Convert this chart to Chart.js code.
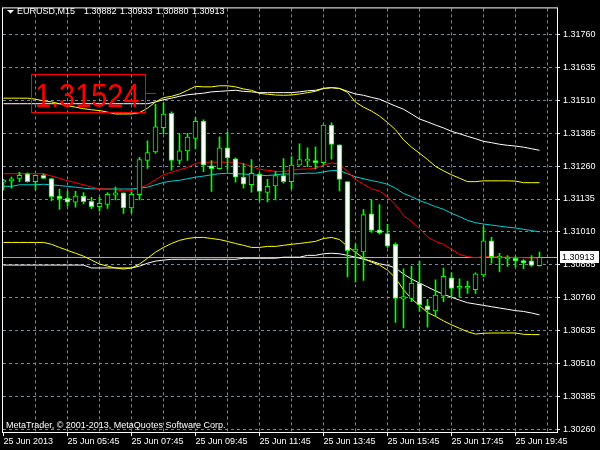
<!DOCTYPE html>
<html>
<head>
<meta charset="utf-8">
<script src="https://cdn.jsdelivr.net/npm/chart.js@4.4.1/dist/chart.umd.min.js"></script>
<style>
  html, body { margin: 0; padding: 0; background: #000; }
  canvas { display: block; }
</style>
</head>
<body>
<canvas id="eurusdChart" width="600" height="450"></canvas>
<script>
// EURUSD M15, 25 Jun 2013 - one entry per bar
const open = [1.31199,1.31204,1.31213,1.31231,1.31201,1.31225,1.31213,1.31146,1.31138,1.31123,
  1.31146,1.31126,1.31106,1.31114,1.31150,1.31158,1.31101,1.31151,1.31282,1.31314,
  1.31406,1.31460,1.31282,1.31318,1.31365,1.31431,1.31261,1.31250,1.31329,1.31288,
  1.31218,1.31189,1.31230,1.31160,1.31185,1.31224,1.31201,1.31264,1.31279,1.31281,
  1.31273,1.31416,1.31341,1.31201,1.30936,1.30934,1.31079,1.31018,1.31004,1.30963,
  1.30755,1.30757,1.30816,1.30729,1.30710,1.30766,1.30836,1.30796,1.30796,1.30791,
  1.30847,1.30976,1.30910,1.30907,1.30910,1.30901,1.30900,1.30882];
const high = [1.31210,1.31218,1.31236,1.31234,1.31227,1.31231,1.31214,1.31173,1.31164,1.31164,
  1.31159,1.31141,1.31141,1.31159,1.31180,1.31158,1.31161,1.31293,1.31356,1.31495,
  1.31501,1.31466,1.31383,1.31384,1.31445,1.31436,1.31281,1.31371,1.31390,1.31291,
  1.31270,1.31285,1.31236,1.31210,1.31239,1.31289,1.31296,1.31345,1.31329,1.31333,
  1.31416,1.31424,1.31341,1.31201,1.30964,1.31095,1.31132,1.31114,1.31039,1.30969,
  1.30870,1.30879,1.30898,1.30754,1.30828,1.30873,1.30855,1.30832,1.30823,1.30855,
  1.31029,1.30989,1.30929,1.30920,1.30916,1.30905,1.30920,1.30933];
const low = [1.31169,1.31176,1.31201,1.31199,1.31170,1.31213,1.31129,1.31095,1.31108,1.31104,
  1.31116,1.31098,1.31089,1.31099,1.31132,1.31080,1.31083,1.31132,1.31251,1.31308,
  1.31383,1.31245,1.31267,1.31282,1.31326,1.31239,1.31164,1.31248,1.31245,1.31199,
  1.31176,1.31161,1.31129,1.31124,1.31132,1.31195,1.31174,1.31264,1.31258,1.31249,
  1.31266,1.31286,1.31166,1.30839,1.30820,1.30826,1.31008,1.31001,1.30951,1.30666,
  1.30645,1.30745,1.30708,1.30648,1.30689,1.30745,1.30760,1.30764,1.30776,1.30776,
  1.30839,1.30891,1.30858,1.30879,1.30876,1.30870,1.30879,1.30880];
const close = [1.31206,1.31212,1.31225,1.31201,1.31225,1.31213,1.31144,1.31136,1.31123,1.31146,
  1.31125,1.31106,1.31119,1.31153,1.31158,1.31101,1.31153,1.31285,1.31311,1.31409,
  1.31458,1.31282,1.31318,1.31370,1.31430,1.31264,1.31250,1.31329,1.31291,1.31218,
  1.31191,1.31233,1.31164,1.31183,1.31224,1.31201,1.31264,1.31285,1.31285,1.31273,
  1.31416,1.31342,1.31209,1.30939,1.30945,1.31076,1.31016,1.31006,1.30956,1.30757,
  1.30764,1.30816,1.30733,1.30714,1.30770,1.30841,1.30795,1.30797,1.30797,1.30851,
  1.30976,1.30916,1.30918,1.30911,1.30900,1.30892,1.30883,1.30913];

// indicators
const maRed = [1.31231,1.31231,1.31231,1.31231,1.31231,1.31231,1.31222,1.31214,1.31204,1.31197,
  1.31189,1.31180,1.31174,1.31173,1.31171,1.31165,1.31167,1.31176,1.31189,1.31208,
  1.31227,1.31236,1.31246,1.31255,1.31270,1.31274,1.31275,1.31275,1.31275,1.31275,
  1.31268,1.31259,1.31248,1.31244,1.31240,1.31239,1.31244,1.31248,1.31249,1.31251,
  1.31264,1.31272,1.31268,1.31238,1.31210,1.31191,1.31174,1.31165,1.31143,1.31113,
  1.31073,1.31049,1.31023,1.30991,1.30974,1.30963,1.30944,1.30925,1.30916,1.30912,
  1.30916,1.30916,1.30914,1.30914,1.30913,1.30912,1.30911,1.30911];
const maCyan = [1.31183,1.31183,1.31189,1.31189,1.31189,1.31191,1.31189,1.31186,1.31183,1.31180,
  1.31176,1.31174,1.31173,1.31173,1.31173,1.31173,1.31173,1.31176,1.31180,1.31189,
  1.31198,1.31203,1.31206,1.31212,1.31218,1.31222,1.31227,1.31231,1.31233,1.31231,
  1.31230,1.31227,1.31225,1.31224,1.31227,1.31230,1.31230,1.31231,1.31233,1.31233,
  1.31238,1.31243,1.31243,1.31231,1.31219,1.31212,1.31205,1.31199,1.31191,1.31176,
  1.31156,1.31144,1.31129,1.31118,1.31106,1.31096,1.31081,1.31068,1.31054,1.31045,
  1.31040,1.31036,1.31032,1.31028,1.31025,1.31020,1.31015,1.31010];
const yellowUp = [1.31518,1.31518,1.31518,1.31518,1.31514,1.31508,1.31504,1.31497,1.31489,1.31484,
  1.31478,1.31474,1.31471,1.31465,1.31458,1.31458,1.31458,1.31463,1.31480,1.31504,
  1.31520,1.31525,1.31534,1.31548,1.31563,1.31561,1.31561,1.31565,1.31565,1.31561,
  1.31553,1.31548,1.31536,1.31533,1.31530,1.31529,1.31530,1.31534,1.31539,1.31544,
  1.31555,1.31558,1.31555,1.31540,1.31503,1.31484,1.31469,1.31450,1.31426,1.31398,
  1.31360,1.31332,1.31309,1.31285,1.31259,1.31242,1.31227,1.31214,1.31201,1.31201,
  1.31204,1.31204,1.31204,1.31204,1.31203,1.31197,1.31197,1.31197];
const yellowDn = [1.30970,1.30970,1.30970,1.30970,1.30970,1.30970,1.30963,1.30951,1.30940,1.30929,
  1.30918,1.30903,1.30888,1.30880,1.30873,1.30869,1.30873,1.30888,1.30910,1.30933,
  1.30951,1.30966,1.30978,1.30985,1.30989,1.30989,1.30985,1.30981,1.30974,1.30966,
  1.30959,1.30951,1.30951,1.30955,1.30955,1.30959,1.30963,1.30966,1.30970,1.30974,
  1.30985,1.30989,1.30981,1.30955,1.30933,1.30910,1.30895,1.30884,1.30865,1.30835,
  1.30790,1.30756,1.30730,1.30704,1.30689,1.30672,1.30657,1.30644,1.30631,1.30622,
  1.30625,1.30626,1.30626,1.30626,1.30626,1.30621,1.30620,1.30620];
const whiteUp = [1.31497,1.31497,1.31497,1.31497,1.31497,1.31497,1.31497,1.31497,1.31497,1.31497,
  1.31497,1.31497,1.31497,1.31497,1.31497,1.31497,1.31497,1.31497,1.31497,1.31504,
  1.31512,1.31518,1.31525,1.31531,1.31534,1.31537,1.31542,1.31544,1.31546,1.31548,
  1.31544,1.31542,1.31539,1.31539,1.31539,1.31539,1.31539,1.31542,1.31546,1.31548,
  1.31555,1.31558,1.31555,1.31544,1.31534,1.31529,1.31521,1.31514,1.31501,1.31488,
  1.31476,1.31458,1.31439,1.31428,1.31416,1.31405,1.31392,1.31383,1.31373,1.31364,
  1.31354,1.31349,1.31343,1.31339,1.31336,1.31332,1.31326,1.31320];
const whiteDn = [1.30884,1.30884,1.30884,1.30884,1.30884,1.30884,1.30884,1.30884,1.30884,1.30884,
  1.30884,1.30873,1.30873,1.30873,1.30873,1.30873,1.30873,1.30880,1.30891,1.30899,
  1.30903,1.30906,1.30906,1.30906,1.30906,1.30906,1.30906,1.30906,1.30906,1.30906,
  1.30910,1.30910,1.30910,1.30910,1.30910,1.30914,1.30914,1.30914,1.30921,1.30921,
  1.30927,1.30929,1.30927,1.30921,1.30914,1.30906,1.30899,1.30889,1.30883,1.30873,
  1.30850,1.30831,1.30816,1.30801,1.30786,1.30773,1.30762,1.30751,1.30741,1.30736,
  1.30731,1.30726,1.30721,1.30716,1.30711,1.30708,1.30702,1.30695];

const priceTicks = [1.30260,1.30385,1.30510,1.30635,1.30760,1.30885,1.31010,
  1.31135,1.31260,1.31385,1.31510,1.31635,1.31760];
const timeLabels = ['25 Jun 2013','25 Jun 05:45','25 Jun 07:45','25 Jun 09:45','25 Jun 11:45',
  '25 Jun 13:45','25 Jun 15:45','25 Jun 17:45','25 Jun 19:45'];
const symbolName = 'EURUSD,M15';
const markLevel = '1.31524';
const copyright = 'MetaTrader, \u00a9 2001-2013, MetaQuotes Software Corp.';

const FONT = '"Liberation Sans", Arial, sans-serif';
const GRID = '#778899';

function lineSet(values, color) {
  return {
    type: 'line',
    data: values.map((v, i) => ({ x: i, y: v })),
    borderColor: color,
    borderWidth: 1,
    pointRadius: 0,
    tension: 0,
    order: 5
  };
}

const bodies = open.map((o, i) => ({ x: i, y: [o, close[i]] }));
const wicks = low.map((l, i) => ({ x: i, y: [l, high[i]] }));
const bodyColors = open.map((o, i) => close[i] > o ? '#000000' : '#ffffff');

const overlay = {
  id: 'overlay',
  beforeDatasetsDraw(chart) {
    const { ctx, chartArea: a, scales: { y } } = chart;
    const py = Math.round(y.getPixelForValue(close[close.length - 1])) + 0.5;
    ctx.save();
    ctx.strokeStyle = '#a8a8b0';
    ctx.lineWidth = 1;
    ctx.beginPath();
    ctx.moveTo(a.left, py);
    ctx.lineTo(a.right, py);
    ctx.stroke();
    ctx.restore();
  },
  afterDraw(chart) {
    const { ctx, chartArea: a, scales: { y } } = chart;
    const last = close.length - 1;
    ctx.save();
    // frame
    ctx.strokeStyle = '#ffffff';
    ctx.lineWidth = 1;
    ctx.strokeRect(a.left - 0.5, a.top - 0.5, a.right - a.left + 1, a.bottom - a.top + 1);

    // header
    ctx.fillStyle = '#ffffff';
    ctx.beginPath();
    ctx.moveTo(7, 10); ctx.lineTo(14, 10); ctx.lineTo(10.5, 13.5);
    ctx.closePath();
    ctx.fill();
    ctx.font = '9px ' + FONT;
    ctx.textBaseline = 'alphabetic';
    ctx.textAlign = 'left';
    ctx.fillText(symbolName, 17, 14);
    [open[last], high[last], low[last], close[last]].forEach((v, i) => {
      ctx.fillText(v.toFixed(5), 84 + i * 36, 14);
    });
    ctx.fillText(copyright, 6, 428);

    // red level label
    ctx.strokeStyle = '#ff0000';
    ctx.strokeRect(31.5, 74.5, 114, 38);
    ctx.beginPath();
    ctx.moveTo(146, 93.5); ctx.lineTo(156, 93.5);
    ctx.stroke();
    ctx.fillStyle = '#ff0000';
    ctx.save();
    ctx.translate(35, 106.5);
    ctx.scale(0.85, 1);
    ctx.font = '34px ' + FONT;
    ctx.fillText(markLevel, 0, 0);
    ctx.restore();

    // current price tag
    const py = Math.round(y.getPixelForValue(close[last]));
    ctx.fillStyle = '#ffffff';
    ctx.fillRect(560, py - 6, 39, 12);
    ctx.fillStyle = '#000000';
    ctx.font = '9px ' + FONT;
    ctx.textBaseline = 'middle';
    ctx.fillText(close[last].toFixed(5), 562, py + 0.5);
    ctx.restore();
  }
};

const chartCtx = document.getElementById('eurusdChart').getContext('2d');
const eurusdChart = new Chart(chartCtx, {
  type: 'bar',
  data: {
    datasets: [
      {
        data: bodies,
        backgroundColor: bodyColors,
        borderColor: '#00ff00',
        borderWidth: 1,
        borderSkipped: false,
        barThickness: 5,
        minBarLength: 2,
        grouped: false,
        order: 0
      },
      {
        data: wicks,
        backgroundColor: '#00ff00',
        borderWidth: 0,
        barThickness: 1,
        grouped: false,
        order: 1
      },
      lineSet(maRed, '#ff0000'),
      lineSet(maCyan, '#00ced1'),
      lineSet(yellowUp, '#ffff00'),
      lineSet(yellowDn, '#ffff00'),
      lineSet(whiteUp, '#ffffff'),
      lineSet(whiteDn, '#ffffff')
    ]
  },
  options: {
    responsive: false,
    animation: false,
    devicePixelRatio: 1,
    layout: { padding: { left: 3, top: 3, right: 0, bottom: 0 } },
    plugins: { legend: { display: false }, tooltip: { enabled: false } },
    scales: {
      x: {
        type: 'linear',
        min: -0.0625,
        max: 69.1875,
        offset: false,
        afterFit(s) { s.height = 18; },
        afterBuildTicks(s) {
          const t = [];
          for (let v = 0; v <= 68; v += 4) t.push({ value: v });
          s.ticks = t;
        },
        grid: {
          color: ctx => ctx.tick && ctx.tick.value === 0 ? 'rgba(0,0,0,0)' : GRID,
          tickColor: ctx => ctx.tick && ctx.tick.value % 8 === 0 ? '#ffffff' : 'rgba(0,0,0,0)',
          tickLength: 4,
          offset: false
        },
        border: { display: false, dash: [3, 3] },
        ticks: {
          autoSkip: false,
          maxRotation: 0,
          align: 'start',
          padding: 0,
          color: '#ffffff',
          font: { family: FONT, size: 9 },
          callback: v => v % 8 === 0 ? timeLabels[v / 8] : ''
        }
      },
      y: {
        position: 'right',
        min: 1.30250,
        max: 1.31859,
        afterFit(s) { s.width = 43; },
        afterBuildTicks(s) { s.ticks = priceTicks.map(v => ({ value: v })); },
        grid: { color: GRID, tickColor: '#ffffff', tickLength: 3 },
        border: { display: false, dash: [3, 3] },
        ticks: {
          padding: 3,
          color: '#ffffff',
          font: { family: FONT, size: 9 },
          callback: v => v.toFixed(5)
        }
      }
    }
  },
  plugins: [overlay]
});
</script>
</body>
</html>
